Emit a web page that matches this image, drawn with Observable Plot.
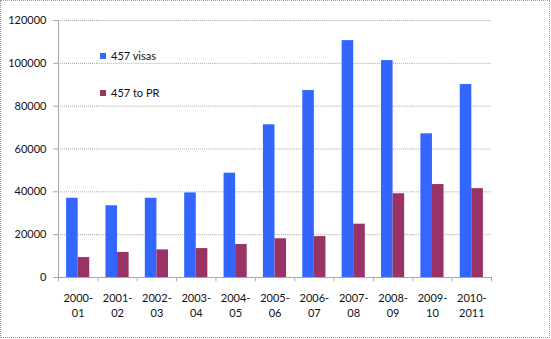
<!DOCTYPE html>
<html>
<head>
<meta charset="utf-8">
<script src="https://cdn.jsdelivr.net/npm/d3@7"></script>
<script src="https://cdn.jsdelivr.net/npm/@observablehq/plot@0.6"></script>
<style>
  html, body { margin: 0; padding: 0; background: #fff; }
  #wrap { position: relative; width: 551px; height: 339px; font-family: Lato, "Open Sans", sans-serif; }
  #border { position: absolute; left: 0; top: 0; width: 550px; height: 338px; box-sizing: border-box; border: 1px dotted #9a9a9a; pointer-events: none; }
  .leg { position: absolute; font-size: 11px; color: #111; line-height: 12px; white-space: nowrap; }
  .leg span.sw { display: inline-block; width: 6px; height: 6px; margin-right: 5px; vertical-align: 1px; }
</style>
</head>
<body>
<div id="wrap">
  <div id="chart"></div>
  <div id="border"></div>
</div>
<script>
const years = ["2000-01","2001-02","2002-03","2003-04","2004-05","2005-06","2006-07","2007-08","2008-09","2009-10","2010-2011"];
const yearLabels = ["2000-\n01","2001-\n02","2002-\n03","2003-\n04","2004-\n05","2005-\n06","2006-\n07","2007-\n08","2008-\n09","2009-\n10","2010-\n2011"];
const seriesNames = ["457 visas", "457 to PR"];
const visas = [37000, 33500, 37000, 39500, 48700, 71300, 87300, 110600, 101300, 67100, 90100];
const toPR = [9300, 11700, 12900, 13500, 15400, 18100, 19100, 24900, 39100, 43400, 41500];
const yTicks = [0, 20000, 40000, 60000, 80000, 100000, 120000];
const colors = ["#3366FF", "#993366"];

const rows = [];
years.forEach((y, i) => {
  rows.push({year: y, series: seriesNames[0], value: visas[i]});
  rows.push({year: y, series: seriesNames[1], value: toPR[i]});
});
const labelOf = new Map(years.map((y, i) => [y, yearLabels[i]]));

const W = 551, H = 339, mL = 58, mR = 60, mT = 20, mB = 62;
const bw = (W - mL - mR) / years.length;

const plot = Plot.plot({
  width: W, height: H,
  marginLeft: mL, marginRight: mR, marginTop: mT, marginBottom: mB,
  style: {fontFamily: "Lato, 'Open Sans', sans-serif", fontSize: "11px", color: "#111", background: "transparent"},
  fx: {domain: years, padding: 0, label: null, round: false},
  x: {domain: seriesNames, paddingInner: 0, paddingOuter: 0.7, axis: null, round: false},
  y: {domain: [0, 120000], label: null},
  color: {domain: seriesNames, range: colors},
  marks: [
    Plot.gridY(yTicks.slice(1), {stroke: "#a8a8a8", strokeOpacity: 1, strokeDasharray: "1,1"}),
    Plot.barY(rows, {fx: "year", x: "series", y: "value", fill: "series"}),
    Plot.ruleY([0], {stroke: "#a8a8a8"}),
    Plot.ruleX([years[0]], {fx: d => d, x: null, y1: 0, y2: 120000, dx: -bw / 2, stroke: "#a8a8a8"}),
    Plot.ruleX(years, {fx: d => d, x: null, y1: 0, y2: -2000, dx: -bw / 2, stroke: "#a8a8a8"}),
    Plot.ruleX([years[years.length - 1]], {fx: d => d, x: null, y1: 0, y2: -2000, dx: bw / 2, stroke: "#a8a8a8"}),
    Plot.axisY({ticks: yTicks, tickSize: 5, tickPadding: 7, tickFormat: d => String(d), stroke: "#a8a8a8", label: null}),
    Plot.axisFx({anchor: "bottom", tickSize: 0, tickPadding: 14, lineHeight: 1.36, tickFormat: d => labelOf.get(d), label: null})
  ]
});
document.getElementById("chart").appendChild(plot);

const wrap = document.getElementById("wrap");
const legPos = [{x: 100, y: 50}, {x: 100, y: 87}];
seriesNames.forEach((s, i) => {
  const d = document.createElement("div");
  d.className = "leg";
  d.style.left = legPos[i].x + "px";
  d.style.top = legPos[i].y + "px";
  d.innerHTML = `<span class="sw" style="background:${colors[i]}"></span>${s}`;
  wrap.appendChild(d);
});
</script>
</body>
</html>
